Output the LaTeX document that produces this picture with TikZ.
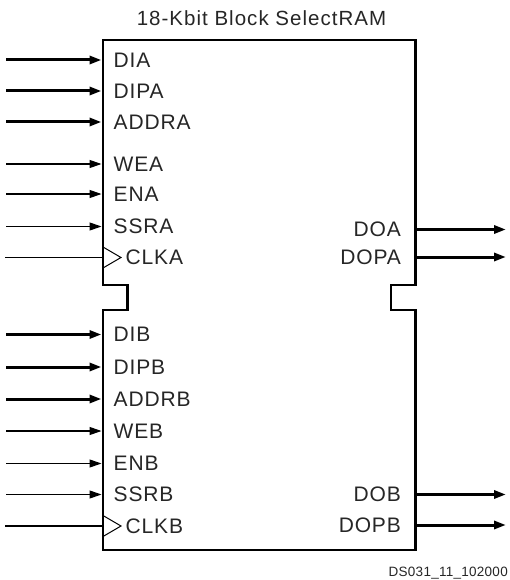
\documentclass[tikz,border=0pt]{standalone}
\usepackage{fontspec}
\setmainfont{Liberation Sans}
\usetikzlibrary{arrows.meta}
\begin{document}
\begin{tikzpicture}[x=1pt,y=-1pt,
  pinlabel/.style={font=\fontsize{21}{23}\selectfont\addfontfeature{LetterSpace=4}, inner sep=0pt, text=black!85},
  busarrow/.style={line width=3pt, -{Triangle[length=12pt,width=8pt]}},
  sigarrow/.style={line width=1.1pt, -{Triangle[length=12pt,width=8pt]}},
  clkline/.style={line width=1.1pt},
  blockline/.style={line width=2.4pt, line join=miter},
  clktri/.style={line width=1pt, line join=miter}]
\useasboundingbox (0,0) rectangle (509,580);
% block outline with notches
\draw[blockline] (103,40) -- (415.5,40) -- (415.5,285) -- (391,285) -- (391,310) -- (415.5,310) -- (415.5,550)
  -- (103,550) -- (103,310) -- (127.5,310) -- (127.5,285) -- (103,285) -- cycle;
% title
\node[pinlabel, font=\fontsize{20.5}{23}\selectfont\addfontfeature{LetterSpace=5}] (title) at (261.5,18) {18-Kbit Block SelectRAM};
% left pins
\foreach \name/\y/\kind in {DIA/60/busarrow, DIPA/91/busarrow, ADDRA/122/busarrow,
  WEA/164/sigarrow, ENA/194/sigarrow, SSRA/226.5/sigarrow,
  DIB/334.5/busarrow, DIPB/367/busarrow, ADDRB/399/busarrow,
  WEB/431/sigarrow, ENB/463.5/sigarrow, SSRB/494.5/sigarrow}{
  \coordinate (src-\name) at (6,\y);
  \coordinate (pin-\name) at (101.5,\y);
  \node[pinlabel, anchor=west] (lbl-\name) at (113.5,\y) {\name};
  \draw[\kind] (src-\name) -- (pin-\name);
}
% clock pins
\foreach \name/\y in {CLKA/257.5, CLKB/526}{
  \coordinate (src-\name) at (5,\y);
  \coordinate (pin-\name) at (103,\y);
  \coordinate (tipa-\name) at (103,\y-10.5);
  \coordinate (tipb-\name) at (103,\y+10.5);
  \coordinate (tip-\name) at (121,\y);
  \node[pinlabel, anchor=west] (lbl-\name) at (125.5,\y) {\name};
  \draw[clkline] (src-\name) -- (pin-\name);
  \draw[clktri] (tipa-\name) -- (tip-\name) -- (tipb-\name);
}
% right pins
\foreach \name/\y in {DOA/229.5, DOPA/257, DOB/494.5, DOPB/525}{
  \coordinate (out-\name) at (415.5,\y);
  \coordinate (dst-\name) at (506,\y);
  \node[pinlabel, anchor=east] (lbl-\name) at (401,\y) {\name};
  \draw[busarrow] (out-\name) -- (dst-\name);
}
% footer
\node[inner sep=0pt, anchor=base east, text=black!85, font=\fontsize{13.5}{15}\selectfont\addfontfeature{LetterSpace=2}] (footer) at (508,576.5) {DS031\_11\_102000};
\end{tikzpicture}
\end{document}
